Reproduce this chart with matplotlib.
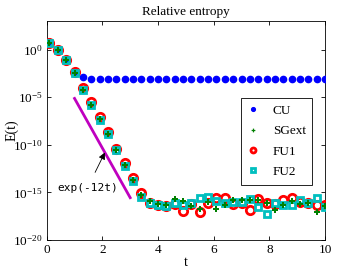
import numpy as np
import matplotlib
matplotlib.use('Agg')
import matplotlib.pyplot as plt

## data (log10 of E(t))
t = 0.1 + 0.3 * np.arange(34)

logCU = [0.69, -0.07, -1.12, -2.24, -2.87] + [-3.1] * 29
logSG = [0.69, -0.07, -1.12, -2.45, -4.2, -5.8, -7.3, -8.9, -10.6, -12.1,
         -13.7, -15.3, -15.9, -16.2, -16.3, -15.7, -15.9, -16.4, -16.7, -16.0,
         -16.7, -16.3, -15.8, -15.8, -15.8, -15.8, -16.1, -16.9, -16.3, -15.9,
         -16.2, -16.1, -17.1, -16.4]
logFU1 = [0.69, -0.07, -1.12, -2.35, -4.0, -5.5, -7.1, -8.7, -10.4, -11.9,
          -13.5, -15.1, -16.1, -16.3, -16.4, -16.2, -17.0, -16.2, -17.1, -16.1,
          -15.6, -15.6, -16.2, -16.1, -16.85, -15.7, -16.1, -16.2, -15.8, -15.6,
          -16.0, -16.1, -16.3, -16.3]
logFU2 = [0.69, -0.07, -1.12, -2.45, -4.2, -5.8, -7.4, -8.9, -10.6, -12.2,
          -13.8, -15.5, -16.1, -16.3, -16.4, -16.1, -16.3, -16.1, -15.6, -15.45,
          -15.9, -16.1, -16.0, -16.0, -15.7, -16.5, -17.3, -16.1, -16.3, -16.3,
          -15.8, -16.1, -15.6, -16.5]

CU = 10.0 ** np.array(logCU)
SG = 10.0 ** np.array(logSG)
FU1 = 10.0 ** np.array(logFU1)
FU2 = 10.0 ** np.array(logFU2)

tl = np.array([1.0, 3.0])
C = 1.2

plt.rcParams['font.family'] = ['Liberation Serif', 'DejaVu Serif']
plt.rcParams['mathtext.fontset'] = 'stix'

fig = plt.figure(figsize=(3.6, 2.71), dpi=100)
ax = fig.add_axes([46.7/360, 1 - 240/271, (325 - 46.7)/360, (240 - 21)/271])

cyan = '#00bfbf'
ax.semilogy(t, CU, 'o', color='blue', ms=4.5, mec='blue', label='CU', zorder=3)
ax.semilogy(t, FU1, 'o', color='red', ms=6, mfc='none', mew=2, label='FU1', zorder=4)
ax.semilogy(t, FU2, 's', color=cyan, ms=5, mfc='none', mew=2, label='FU2', zorder=5)
ax.semilogy(t, SG, 'P', color='green', ms=4.5, mew=0, label='SGext', zorder=6)
ax.semilogy(tl, C * np.exp(-12 * tl), '-', color='#bf00bf', lw=2, zorder=2)

ax.annotate('exp(-12t)', xy=(2.09, C * np.exp(-12 * 2.09)), xytext=(1.47, 10**-14.5),
            ha='center', va='center', family='DejaVu Sans Mono', fontsize=8,
            arrowprops=dict(arrowstyle='-|>', color='black', lw=0.6,
                            shrinkA=6, shrinkB=0, mutation_scale=10))

ax.set_xlim(0, 10)
ax.set_ylim(1e-20, 1e3)
ax.set_xticks([0, 2, 4, 6, 8, 10])
ax.set_yticks([1e0, 1e-5, 1e-10, 1e-15, 1e-20])
ax.minorticks_off()
ax.tick_params(direction='in', top=True, right=True, length=3, labelsize=9.5, width=0.6, pad=3)
for s in ax.spines.values():
    s.set_linewidth(0.6)

ax.set_title('Relative entropy', fontsize=9.5, pad=4)
ax.set_xlabel('t', fontsize=10, labelpad=0)
ax.set_ylabel('E(t)', fontsize=10, labelpad=0)
ax.yaxis.set_label_coords(-0.10, 0.5)

h, l = ax.get_legend_handles_labels()
order = [0, 3, 1, 2]
leg = ax.legend([h[i] for i in order], [l[i] for i in order],
                loc='upper left', bbox_to_anchor=((241 - 46.7)/278.3, 1 - (98 - 21)/219),
                fontsize=9.5, fancybox=False, framealpha=1, edgecolor='black',
                markerscale=0.6, handlelength=0.8, labelspacing=0.62, borderpad=0.5,
                handletextpad=1.1, borderaxespad=0)
leg.get_frame().set_linewidth(0.6)

fig.savefig('out.png', dpi=100)
